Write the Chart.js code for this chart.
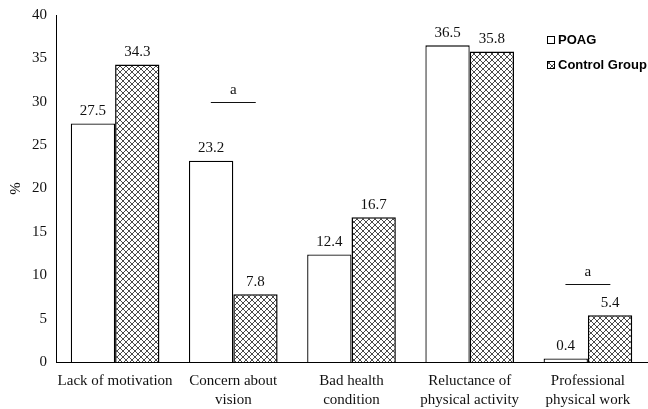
<!DOCTYPE html>
<html>
<head>
<meta charset="utf-8">
<script src="https://cdn.jsdelivr.net/npm/chart.js@4"></script>
<style>
  html, body { margin: 0; padding: 0; background: #fff; }
  #wrap { width: 648px; height: 409px; position: relative; }
</style>
</head>
<body>
<div id="wrap"><canvas id="chart"></canvas></div>
<script>
/* ── Chart data ── */
var categories = [
    ['Lack of motivation'],
    ['Concern about', 'vision'],
    ['Bad health', 'condition'],
    ['Reluctance of', 'physical activity'],
    ['Professional', 'physical work']
];
var poagValues = [27.5, 23.2, 12.4, 36.5, 0.4];
var controlValues = [34.3, 7.8, 16.7, 35.8, 5.4];
var seriesNames = ['POAG', 'Control Group'];
var yTicks = [0, 5, 10, 15, 20, 25, 30, 35, 40];

// significance markers ("a") : category index and level in %
var sigIndex = [1, 4];
var sigLevel = [30, 9];

/* ── Crosshatch fill for the control bars ── */
function makeHatch() {
    var c = document.createElement('canvas');
    c.width = 6; c.height = 6;
    var g = c.getContext('2d');
    g.fillStyle = '#fff';
    g.fillRect(0, 0, 6, 6);
    g.strokeStyle = '#4a4a4a';
    g.lineWidth = 1;
    g.beginPath();
    g.moveTo(0, 0); g.lineTo(6, 6);
    g.moveTo(6, 0); g.lineTo(0, 6);
    g.stroke();
    return document.getElementById('chart').getContext('2d').createPattern(c, 'repeat');
}
var hatch = makeHatch();

var serif = '"Liberation Serif", "Times New Roman", serif';

/* ── Value labels, significance marks and legend ── */
var extrasPlugin = {
    id: 'extras',
    afterDatasetsDraw: function (chart) {
        var ctx = chart.ctx;
        var xs = chart.scales.x, ys = chart.scales.y;
        ctx.save();
        ctx.fillStyle = '#111';
        ctx.font = '15px ' + serif;
        ctx.textAlign = 'center';
        ctx.textBaseline = 'bottom';
        chart.data.datasets.forEach(function (ds, di) {
            chart.getDatasetMeta(di).data.forEach(function (bar, i) {
                ctx.fillText(ds.data[i].toFixed(1), bar.x, bar.y - 5);
            });
        });

        // "a" markers
        var half = (xs.getPixelForValue(1) - xs.getPixelForValue(0)) * 0.19;
        ctx.strokeStyle = '#111';
        ctx.lineWidth = 1;
        sigIndex.forEach(function (idx, k) {
            var cx = xs.getPixelForValue(idx);
            var y = Math.round(ys.getPixelForValue(sigLevel[k])) + 0.5;
            ctx.beginPath();
            ctx.moveTo(cx - half, y);
            ctx.lineTo(cx + half, y);
            ctx.stroke();
            ctx.fillText('a', cx, y - 5);
        });

        // legend
        var lx = 547, ly = [40, 65];
        ctx.font = 'bold 13px "Liberation Sans", Arial, sans-serif';
        ctx.textAlign = 'left';
        ctx.textBaseline = 'middle';
        chart.data.datasets.forEach(function (ds, di) {
            ctx.fillStyle = ds.backgroundColor;
            ctx.fillRect(lx, ly[di] - 4, 8, 8);
            ctx.strokeStyle = '#000';
            ctx.lineWidth = 1;
            ctx.strokeRect(lx + 0.5, ly[di] - 3.5, 7, 7);
            ctx.fillStyle = '#000';
            ctx.fillText(seriesNames[di], lx + 11, ly[di]);
        });
        ctx.restore();
    }
};

new Chart(document.getElementById('chart'), {
    type: 'bar',
    data: {
        labels: categories,
        datasets: [{
            label: seriesNames[0],
            data: poagValues,
            backgroundColor: '#ffffff',
            borderColor: '#000',
            borderWidth: 1.3
        }, {
            label: seriesNames[1],
            data: controlValues,
            backgroundColor: hatch,
            borderColor: '#000',
            borderWidth: 1.5
        }]
    },
    options: {
        responsive: true,
        maintainAspectRatio: false,
        animation: false,
        categoryPercentage: 0.75,
        barPercentage: 1,
        layout: { padding: { top: 15, right: 1, left: 0, bottom: 0 } },
        plugins: { legend: { display: false }, tooltip: { enabled: false } },
        scales: {
            x: {
                grid: { display: false, drawTicks: false },
                border: { color: '#000', width: 1 },
                ticks: { color: '#111', font: { family: serif, size: 15, lineHeight: 1.3 }, padding: 9, maxRotation: 0, autoSkip: false },
                afterFit: function (s) { s.height = 47; }
            },
            y: {
                min: 0, max: 40,
                afterBuildTicks: function (s) { s.ticks = yTicks.map(function (v) { return { value: v }; }); },
                grid: { display: false, drawOnChartArea: false, drawTicks: true, tickLength: 5, color: '#000' },
                border: { color: '#000', width: 1 },
                ticks: { color: '#111', font: { family: serif, size: 15 }, padding: 4 },
                title: { display: true, text: '%', color: '#111', font: { family: serif, size: 15 }, padding: { top: 7, bottom: 0 } },
                afterFit: function (s) { s.width = 56; }
            }
        }
    },
    plugins: [extrasPlugin]
});
</script>
</body>
</html>
